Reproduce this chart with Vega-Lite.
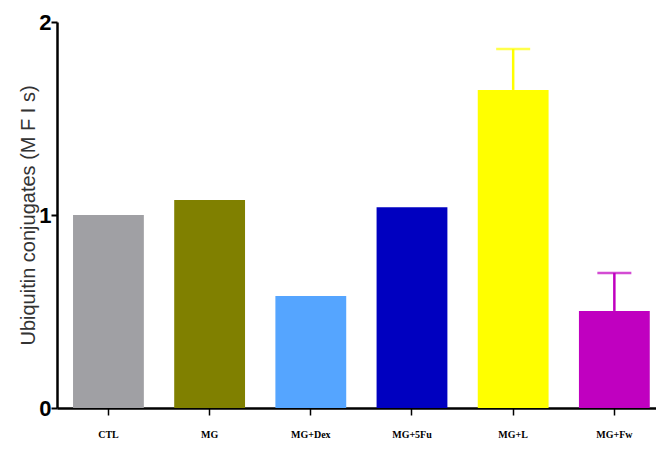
{
  "$schema": "https://vega.github.io/schema/vega-lite/v6.json",
  "autosize": "none",
  "padding": {"left": 57, "top": 22, "right": 0, "bottom": 42},
  "width": 599,
  "height": 386,
  "background": "white",
  "config": {"view": {"stroke": null}},
  "data": {"values": [
    {"group": "CTL", "value": 1.0, "upper": null, "color": "#A0A0A4"},
    {"group": "MG", "value": 1.078, "upper": null, "color": "#808000"},
    {"group": "MG+Dex", "value": 0.58, "upper": null, "color": "#55A5FF"},
    {"group": "MG+5Fu", "value": 1.04, "upper": null, "color": "#0000C0"},
    {"group": "MG+L", "value": 1.648, "upper": 1.86, "color": "#FFFF00"},
    {"group": "MG+Fw", "value": 0.503, "upper": 0.70, "color": "#C000C0"}
  ]},
  "encoding": {
    "x": {"field": "group", "type": "nominal", "sort": null,
      "scale": {"paddingInner": 0.3, "paddingOuter": 0.11, "align": 0.72},
      "axis": {"title": null, "labelAngle": 0, "labelFont": "Liberation Serif", "labelFontWeight": "bold", "labelFontSize": 10, "labelColor": "#000", "domainColor": "#000", "domainWidth": 2.5, "tickColor": "#000", "tickWidth": 1.5, "tickSize": 7, "labelPadding": 14}},
    "y": {"field": "value", "type": "quantitative",
      "scale": {"domain": [0, 2], "nice": false},
      "axis": {"values": [0, 1, 2], "format": ".0f", "labelOverlap": false, "labelFlush": false, "grid": false, "title": "Ubiquitin conjugates (M F I s)", "titleFont": "Liberation Sans", "titleFontWeight": "normal", "titleFontSize": 20, "titleColor": "#333", "titlePadding": 0, "labelFont": "Liberation Sans", "labelFontWeight": "bold", "labelFontSize": 22, "labelColor": "#000", "labelPadding": 0, "domainColor": "#000", "domainWidth": 2.5, "tickColor": "#000", "tickWidth": 2, "tickSize": 6}},
    "color": {"field": "color", "type": "nominal", "scale": null}
  },
  "layer": [
    {
      "mark": {"type": "bar"}
    },
    {
      "transform": [{"filter": "datum.upper != null"}],
      "mark": {"type": "rule", "strokeWidth": 2.5},
      "encoding": {
        "y2": {"field": "upper"}
      }
    },
    {
      "transform": [{"filter": "datum.upper != null"}],
      "mark": {"type": "tick", "size": 34, "thickness": 2.5},
      "encoding": {
        "y": {"field": "upper", "type": "quantitative", "title": "Ubiquitin conjugates (M F I s)"}
      }
    }
  ]
}
